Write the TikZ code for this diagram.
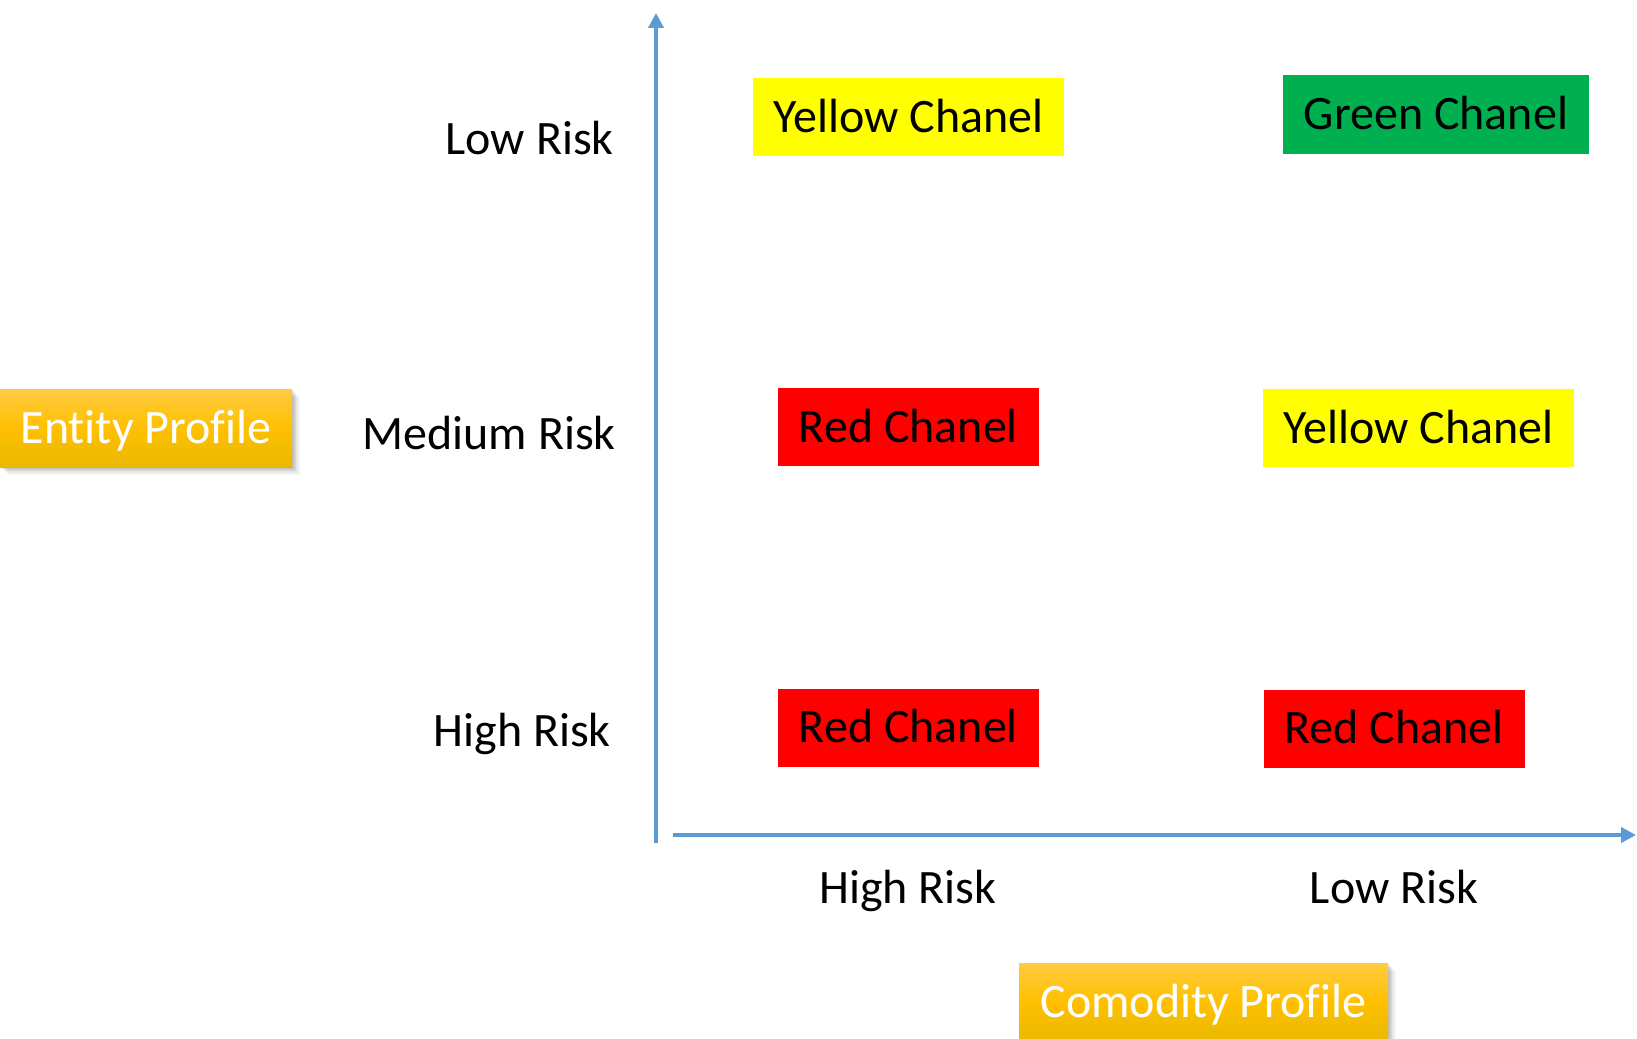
\documentclass[tikz,border=0pt]{standalone}
\usepackage{fontspec}
\setmainfont{Carlito}[Ligatures=NoCommon]
\usetikzlibrary{arrows.meta}
\definecolor{axisblue}{HTML}{5B9BD5}
\definecolor{chyellow}{HTML}{FFFF00}
\definecolor{chgreen}{HTML}{00B050}
\definecolor{chred}{HTML}{FF0000}
\definecolor{goldtop}{HTML}{FFCB42}
\definecolor{goldmid}{HTML}{FFC000}
\definecolor{goldbot}{HTML}{E9B900}
\tikzset{
  every node/.style={font=\fontsize{48}{57}\selectfont, inner sep=0pt, text height=30.9pt, text depth=0pt},
  axis/.style={draw=axisblue, line width=4pt},
  chanel/.style={minimum height=78pt, anchor=center},
  yellowbox/.style={chanel, fill=chyellow, minimum width=311pt},
  greenbox/.style={chanel, fill=chgreen, minimum width=306pt},
  redbox/.style={chanel, fill=chred, minimum width=261pt},
  profile/.style={minimum height=78pt, text=white, top color=goldtop, bottom color=goldbot, middle color=goldmid},
  risklabel/.style={text=black}
}
\begin{document}
\begin{tikzpicture}[x=1pt, y=-1pt]
\useasboundingbox (0,0) rectangle (1637,1038);
\clip (0,0) rectangle (1637,1038);

% axes
\coordinate (ybot) at (656,843);
\coordinate (ytop) at (656,13);
\coordinate (xleft) at (673,835);
\coordinate (xright) at (1636,835);
\draw[axis, -{Triangle[length=15pt,width=15pt]}] (ybot) -- (ytop);
\draw[axis, -{Triangle[length=15pt,width=15pt]}] (xleft) -- (xright);

% entity risk levels
\node[risklabel, anchor=east] (elow) at (614,139) {Low Risk};
\node[risklabel, anchor=east] (emed) at (616,434) {Medium Risk};
\node[risklabel, anchor=east] (ehigh) at (611,731) {High Risk};

% commodity risk levels
\node[risklabel] (chigh) at (908,888) {High Risk};
\node[risklabel] (clow) at (1394,888) {Low Risk};

% channel matrix
\node[yellowbox] (c11) at (908.5,117) {Yellow Chanel};
\node[greenbox] (c12) at (1436,114.5) {Green Chanel};
\node[redbox] (c21) at (908.5,427) {Red Chanel};
\node[yellowbox] (c22) at (1418.5,428) {Yellow Chanel};
\node[redbox] (c31) at (908.5,727.5) {Red Chanel};
\node[redbox] (c32) at (1394,728.5) {Red Chanel};

% soft shadows behind the profile tags
\foreach \o/\a in {2/0.10,4/0.08,6/0.06,8/0.04}{
  \fill[black, opacity=\a] (0+\o,389+\o) rectangle (292+\o,467+\o);
  \fill[black, opacity=\a] (1019+\o,963+\o) rectangle (1388+\o,1041+\o);
}

% profile tags
\node[profile, minimum width=292pt] (entity) at (146,428) {Entity Profile};
\node[profile, minimum width=369pt] (comodity) at (1203.5,1002) {Comodity Profile};
\end{tikzpicture}
\end{document}
